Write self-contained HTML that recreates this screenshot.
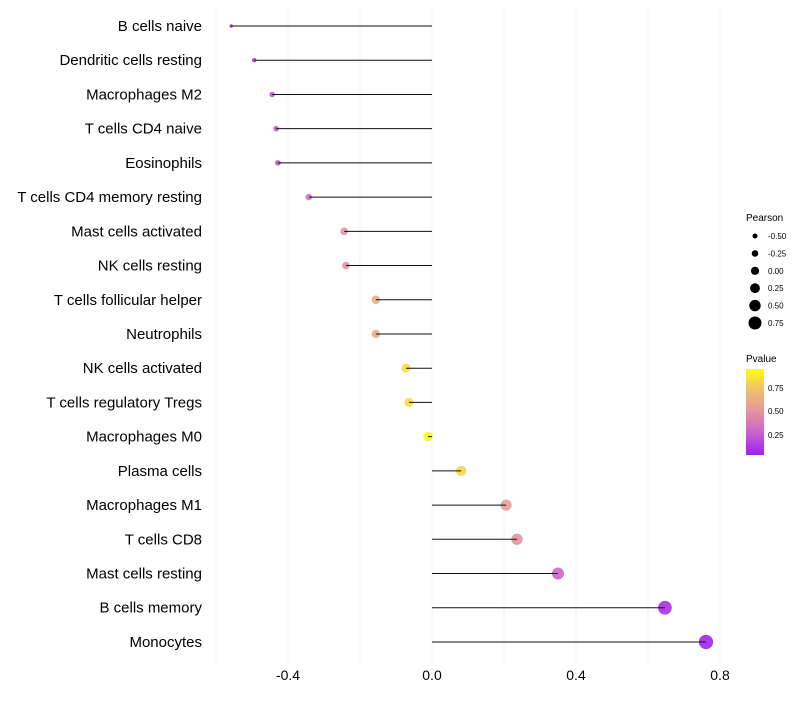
<!DOCTYPE html>
<html><head><meta charset="utf-8"><style>
body{margin:0;background:#fff;font-family:"Liberation Sans",sans-serif}
</style></head><body>
<svg id="c" width="800" height="700" xmlns="http://www.w3.org/2000/svg">
<defs><linearGradient id="pg" x1="0" y1="1" x2="0" y2="0">
<stop offset="0" stop-color="#a020f0"/><stop offset="0.3" stop-color="#cf6cc8"/><stop offset="0.55" stop-color="#e89c98"/><stop offset="0.8" stop-color="#f2c860"/><stop offset="1" stop-color="#ffff10"/>
</linearGradient></defs>
<g id="grid"></g>
<g id="marks"></g>
<g id="axes"></g>
<g id="sleg">
<text x="746" y="221" font-size="10" fill="#000">Pearson</text>
</g>
<g>
<text x="746" y="362" font-size="10" fill="#000">Pvalue</text>
<rect x="746" y="369" width="18" height="86" fill="url(#pg)"/>
<text x="768" y="391" font-size="8">0.75</text>
<text x="768" y="414" font-size="8">0.50</text>
<text x="768" y="438" font-size="8">0.25</text>
</g>
</svg>
<script>
const categories=["B cells naive","Dendritic cells resting","Macrophages M2","T cells CD4 naive","Eosinophils","T cells CD4 memory resting","Mast cells activated","NK cells resting","T cells follicular helper","Neutrophils","NK cells activated","T cells regulatory  Tregs ","Macrophages M0","Plasma cells","Macrophages M1","T cells CD8","Mast cells resting","B cells memory","Monocytes"];
const pearson=[-0.558,-0.494,-0.444,-0.433,-0.428,-0.342,-0.244,-0.239,-0.156,-0.156,-0.072,-0.064,-0.011,0.081,0.206,0.236,0.35,0.647,0.761];
const pvalue=[0.05,0.15,0.2,0.2,0.2,0.35,0.5,0.5,0.65,0.65,0.87,0.87,0.98,0.85,0.55,0.5,0.28,0.05,0.02];
const xTicks=[-0.4,0.0,0.4,0.8];
const sizeLegend=[-0.5,-0.25,0,0.25,0.5,0.75];
const NS="http://www.w3.org/2000/svg";
const x=v=>432+v*360;
const y=i=>26+i*34.22;
const r=v=>{const f=Math.max(0,(v+0.56)/1.32);return Math.sqrt(3+f*48);};
const rl=v=>2.5+(v+0.5)*3.2;
function col(p){const st=[[0,[160,32,240]],[0.3,[207,108,200]],[0.55,[232,156,152]],[0.8,[242,200,96]],[1,[255,255,16]]];
for(let k=1;k<st.length;k++){if(p<=st[k][0]){const a=st[k-1],b=st[k],t=(p-a[0])/(b[0]-a[0]);return "rgb("+a[1].map((c,j)=>Math.round(c+(b[1][j]-c)*t)).join(",")+")";}}return "rgb(255,255,16)";}
function mk(t,at,parent){const e=document.createElementNS(NS,t);for(const k in at)e.setAttribute(k,at[k]);document.getElementById(parent).appendChild(e);return e;}
for(let v=-0.6;v<=0.81;v+=0.2){const g=mk("line",{x1:x(v),x2:x(v),y1:8,y2:662,stroke:"#f3f3f3","stroke-width":1},"grid");

}
xTicks.forEach(t=>{const e=mk("text",{x:x(t),y:680,"font-size":14,"text-anchor":"middle",fill:"#000"},"axes");e.textContent=t.toFixed(1);

});
categories.forEach((c,i)=>{
const t=mk("text",{x:202,y:y(i)+5,"font-size":15,"text-anchor":"end",fill:"#000"},"axes");t.textContent=c;


const d=mk("circle",{cx:x(pearson[i]),cy:y(i),r:r(pearson[i]),fill:col(pvalue[i]),"fill-opacity":0.9},"marks");


const l=mk("line",{x1:x(0),x2:x(pearson[i]),y1:y(i),y2:y(i),stroke:"#111","stroke-width":1},"marks");


});
sizeLegend.forEach((v,i)=>{const cy=236+i*17.4;
const d=mk("circle",{cx:755,cy:cy,r:rl(v),fill:"#000"},"sleg");


const t=mk("text",{x:768,y:cy+3,"font-size":8,fill:"#000"},"sleg");t.textContent=v.toFixed(2);

});
</script>
</body></html>
